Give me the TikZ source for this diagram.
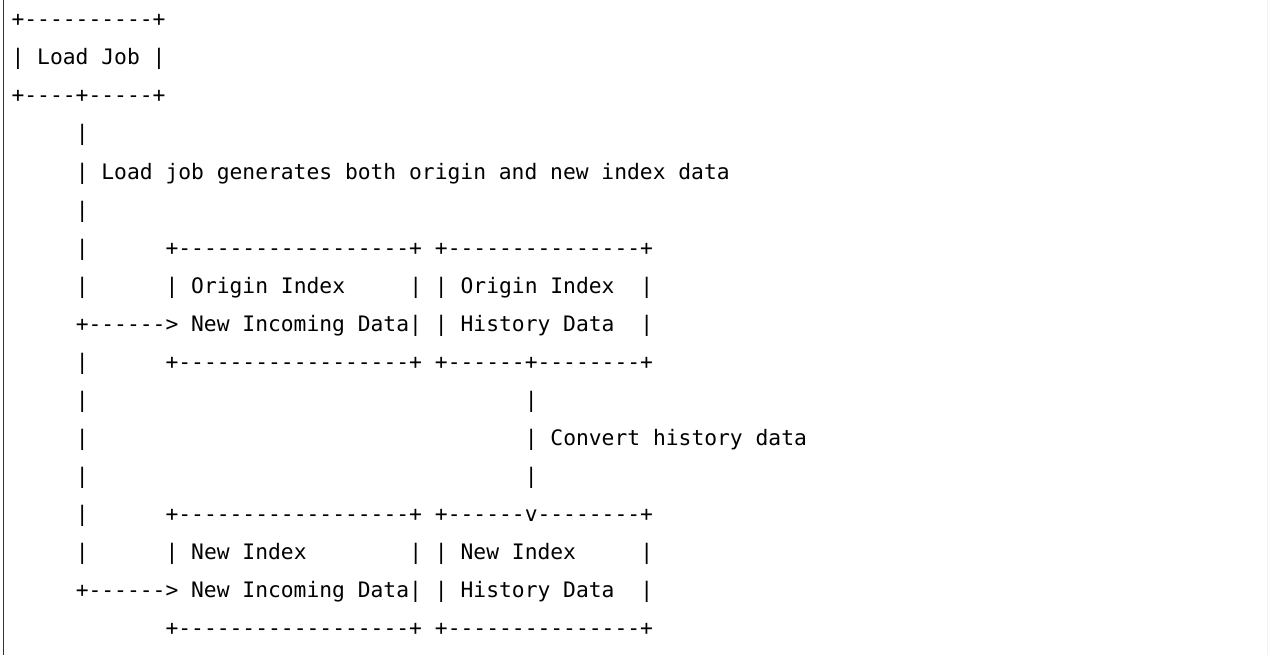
\documentclass[tikz,border=0pt]{standalone}
\usepackage{fontspec}
\setmonofont{DejaVu Sans Mono}
\tikzset{
  txt/.style={anchor=base west, inner sep=0pt, outer sep=0pt,
    font=\ttfamily\fontsize{21.3}{25}\selectfont, text=black},
}
% one fragment of a text row: name, row, column, text
\newcommand\cell[4]{\node[txt] (#1) at ({11.6+#3*12.83},{-(27+38*#2)}) {#4};}
\begin{document}
\begin{tikzpicture}[x=1pt,y=1pt]
\useasboundingbox (0,0) rectangle (1268,-655);
\fill[white] (0,0) rectangle (1268,-655);
\draw[black!80, line width=1.3pt] (3.5,0) -- (3.5,-655);
\draw[black!5, line width=1pt] (1267.5,0) -- (1267.5,-655);

% Load Job box
\cell{job0}{0}{0}{+----------+}
\cell{job1}{1}{0}{| Load Job |}
\cell{job2}{2}{0}{+----+-----+}

% trunk from the load job
\cell{t3}{3}{5}{|}
\cell{t4}{4}{5}{| Load job generates both origin and new index data}
\cell{t5}{5}{5}{|}
\cell{t6}{6}{5}{|}
\cell{t7}{7}{5}{|}
\cell{t8}{8}{5}{+------> New Incoming Data|}
\cell{t9}{9}{5}{|}
\cell{t10}{10}{5}{|}
\cell{t11}{11}{5}{|}
\cell{t12}{12}{5}{|}
\cell{t13}{13}{5}{|}
\cell{t14}{14}{5}{|}
\cell{t15}{15}{5}{+------> New Incoming Data|}

% origin index boxes
\cell{oa6}{6}{12}{+------------------+}
\cell{oa7}{7}{12}{| Origin Index}
\cell{oa7r}{7}{31}{|}
\cell{oa9}{9}{12}{+------------------+}
\cell{ob6}{6}{33}{+---------------+}
\cell{ob7}{7}{33}{| Origin Index}
\cell{ob7r}{7}{49}{|}
\cell{ob8}{8}{33}{| History Data}
\cell{ob8r}{8}{49}{|}
\cell{ob9}{9}{33}{+------+--------+}

% conversion link
\cell{c10}{10}{40}{|}
\cell{c11}{11}{40}{| Convert history data}
\cell{c12}{12}{40}{|}

% new index boxes
\cell{na13}{13}{12}{+------------------+}
\cell{na14}{14}{12}{| New Index}
\cell{na14r}{14}{31}{|}
\cell{na16}{16}{12}{+------------------+}
\cell{nb13}{13}{33}{+------v--------+}
\cell{nb14}{14}{33}{| New Index}
\cell{nb14r}{14}{49}{|}
\cell{nb15}{15}{33}{| History Data}
\cell{nb15r}{15}{49}{|}
\cell{nb16}{16}{33}{+---------------+}
\end{tikzpicture}
\end{document}
